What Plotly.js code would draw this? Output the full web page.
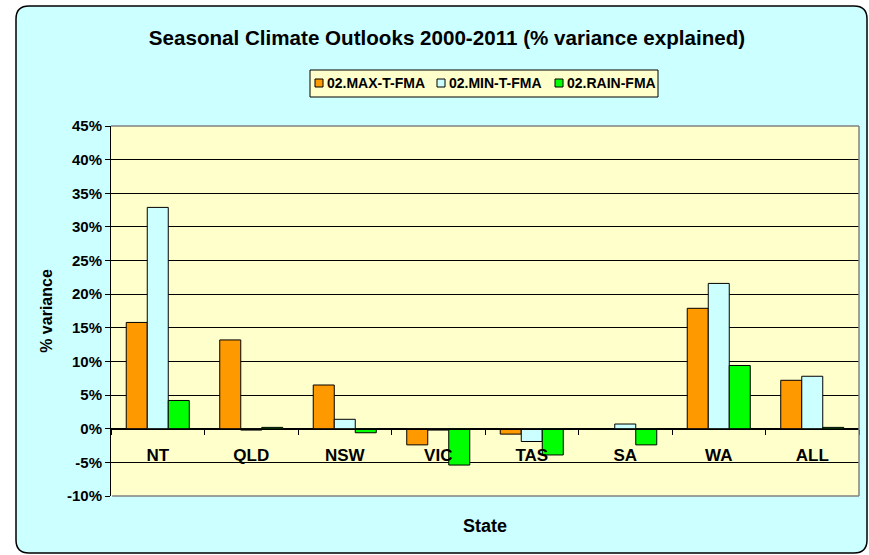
<!DOCTYPE html>
<html>
<head>
<meta charset="utf-8">
<script src="https://cdn.plot.ly/plotly-3.0.1.min.js"></script>
<style>
  html, body { margin: 0; padding: 0; background: #ffffff; }
  #chart { width: 869px; height: 555px; }
</style>
</head>
<body>
<div id="chart"></div>
<script>
// States and the variance explained (%) by each outlook
const states = ['NT', 'QLD', 'NSW', 'VIC', 'TAS', 'SA', 'WA', 'ALL'];
const maxTemp = [15.8, 13.2, 6.5, -2.4, -0.8, 0.0, 17.9, 7.2];
const minTemp = [32.9, -0.2, 1.4, -0.2, -1.9, 0.7, 21.6, 7.8];
const rain = [4.2, 0.2, -0.6, -5.4, -3.9, -2.4, 9.4, 0.2];

const seriesNames = ['02.MAX-T-FMA', '02.MIN-T-FMA', '02.RAIN-FMA'];
const seriesColors = ['#FF9900', '#CCFFFF', '#00FF00'];
const yTicks = [-10, -5, 0, 5, 10, 15, 20, 25, 30, 35, 40, 45];

const W = 869, H = 555;
const M = { l: 111, r: 10, t: 126, b: 59 };
const PW = W - M.l - M.r, PH = H - M.t - M.b;
const yMin = -10, yMax = 45;

// pixel -> paper helpers for the chart frame decorations
const fx = px => (px - M.l) / PW;
const fy = py => (H - M.b - py) / PH;

function roundedBox(x0, y0, x1, y1, r) {
  return 'M' + fx(x0 + r) + ',' + fy(y0) +
    ' L' + fx(x1 - r) + ',' + fy(y0) +
    ' Q' + fx(x1) + ',' + fy(y0) + ' ' + fx(x1) + ',' + fy(y0 + r) +
    ' L' + fx(x1) + ',' + fy(y1 - r) +
    ' Q' + fx(x1) + ',' + fy(y1) + ' ' + fx(x1 - r) + ',' + fy(y1) +
    ' L' + fx(x0 + r) + ',' + fy(y1) +
    ' Q' + fx(x0) + ',' + fy(y1) + ' ' + fx(x0) + ',' + fy(y1 - r) +
    ' L' + fx(x0) + ',' + fy(y0 + r) +
    ' Q' + fx(x0) + ',' + fy(y0) + ' ' + fx(x0 + r) + ',' + fy(y0) + ' Z';
}

const FONT = 'Liberation Sans, Arial, sans-serif';

const values = [maxTemp, minTemp, rain];
const traces = values.map((v, i) => ({
  type: 'bar',
  name: seriesNames[i],
  x: states,
  y: v,
  marker: { color: seriesColors[i], line: { color: '#000000', width: 1 } },
  hoverinfo: 'x+y+name'
}));

// Compact key above the plot: small swatch followed by the series name
const keyBox = { x0: 310, y0: 70, x1: 658, y1: 97 };
const keySwatchX = [315, 437, 555];
const keyCenterY = 83;
const keyShapes = [{
  type: 'rect', xref: 'paper', yref: 'paper', layer: 'above',
  x0: fx(keyBox.x0), x1: fx(keyBox.x1), y0: fy(keyBox.y1), y1: fy(keyBox.y0),
  fillcolor: '#FFFFCC', line: { color: '#000000', width: 1 }
}];
const keyLabels = [];
seriesNames.forEach((name, i) => {
  const sx = keySwatchX[i];
  keyShapes.push({
    type: 'rect', xref: 'paper', yref: 'paper', layer: 'above',
    x0: fx(sx), x1: fx(sx + 8), y0: fy(keyCenterY + 4), y1: fy(keyCenterY - 4),
    fillcolor: seriesColors[i], line: { color: '#000000', width: 1 }
  });
  keyLabels.push({
    text: name,
    xref: 'paper', yref: 'paper',
    x: fx(sx + 10), y: fy(keyCenterY),
    xanchor: 'left', yanchor: 'middle',
    showarrow: false,
    font: { family: FONT, size: 14, color: '#000000', weight: 'bold' }
  });
});

const layout = {
  width: W,
  height: H,
  margin: M,
  paper_bgcolor: '#ffffff',
  plot_bgcolor: 'rgba(0,0,0,0)',
  barmode: 'group',
  bargap: 0.326,
  bargroupgap: 0,
  showlegend: false,
  font: { family: FONT, color: '#000000' },
  title: {
    text: '<b>Seasonal Climate Outlooks 2000-2011 (% variance explained)</b>',
    font: { family: FONT, size: 20.6, color: '#000000' },
    xref: 'container', x: 447 / W, xanchor: 'center',
    yref: 'container', y: 1 - 38 / H, yanchor: 'middle'
  },
  xaxis: {
    type: 'category',
    anchor: 'free',
    position: (0 - yMin) / (yMax - yMin),
    showline: true,
    linecolor: '#000000',
    linewidth: 1,
    ticks: 'outside',
    tickson: 'boundaries',
    ticklen: 5,
    tickcolor: '#000000',
    ticklabelstandoff: 11,
    showgrid: false,
    zeroline: false,
    tickfont: { family: FONT, size: 17, color: '#000000', weight: 'bold' },
    fixedrange: true
  },
  yaxis: {
    range: [yMin, yMax],
    domain: [0, 1],
    tickvals: yTicks,
    ticktext: yTicks.map(v => v + '%'),
    showline: true,
    linecolor: '#000000',
    linewidth: 1,
    ticks: 'outside',
    ticklen: 5,
    tickcolor: '#000000',
    showgrid: true,
    gridcolor: '#000000',
    gridwidth: 1,
    zeroline: true,
    zerolinecolor: '#000000',
    zerolinewidth: 1,
    tickfont: { family: FONT, size: 15, color: '#000000', weight: 'bold' },
    title: {
      text: '% variance',
      font: { family: FONT, size: 16, color: '#000000', weight: 'bold' },
      standoff: 10
    },
    automargin: false,
    fixedrange: true
  },
  annotations: [{
    text: 'State',
    xref: 'paper', yref: 'paper',
    x: fx(485), y: fy(526),
    xanchor: 'center', yanchor: 'middle',
    showarrow: false,
    font: { family: FONT, size: 18, color: '#000000', weight: 'bold' }
  }].concat(keyLabels),
  shapes: [
    // outer rounded panel
    {
      type: 'path', xref: 'paper', yref: 'paper', layer: 'below',
      path: roundedBox(16, 6, 867, 553, 13),
      fillcolor: '#CCFFFF',
      line: { color: '#000000', width: 1.5 }
    },
    // plotting area fill
    {
      type: 'rect', xref: 'paper', yref: 'paper', layer: 'below',
      x0: 0, x1: 1, y0: 0, y1: 1,
      fillcolor: '#FFFFCC',
      line: { width: 0 }
    },
    // grey frame on top, right and bottom of the plotting area
    { type: 'line', xref: 'paper', yref: 'paper', layer: 'above',
      x0: 0, x1: 1, y0: 1, y1: 1, line: { color: '#808080', width: 1.5 } },
    { type: 'line', xref: 'paper', yref: 'paper', layer: 'above',
      x0: 1, x1: 1, y0: 0, y1: 1, line: { color: '#808080', width: 1.5 } },
    { type: 'line', xref: 'paper', yref: 'paper', layer: 'above',
      x0: 0.0015, x1: 1, y0: 0, y1: 0, line: { color: '#808080', width: 1.5 } }
  ].concat(keyShapes)
};

Plotly.newPlot('chart', traces, layout, { displayModeBar: false, staticPlot: false });
</script>
</body>
</html>
